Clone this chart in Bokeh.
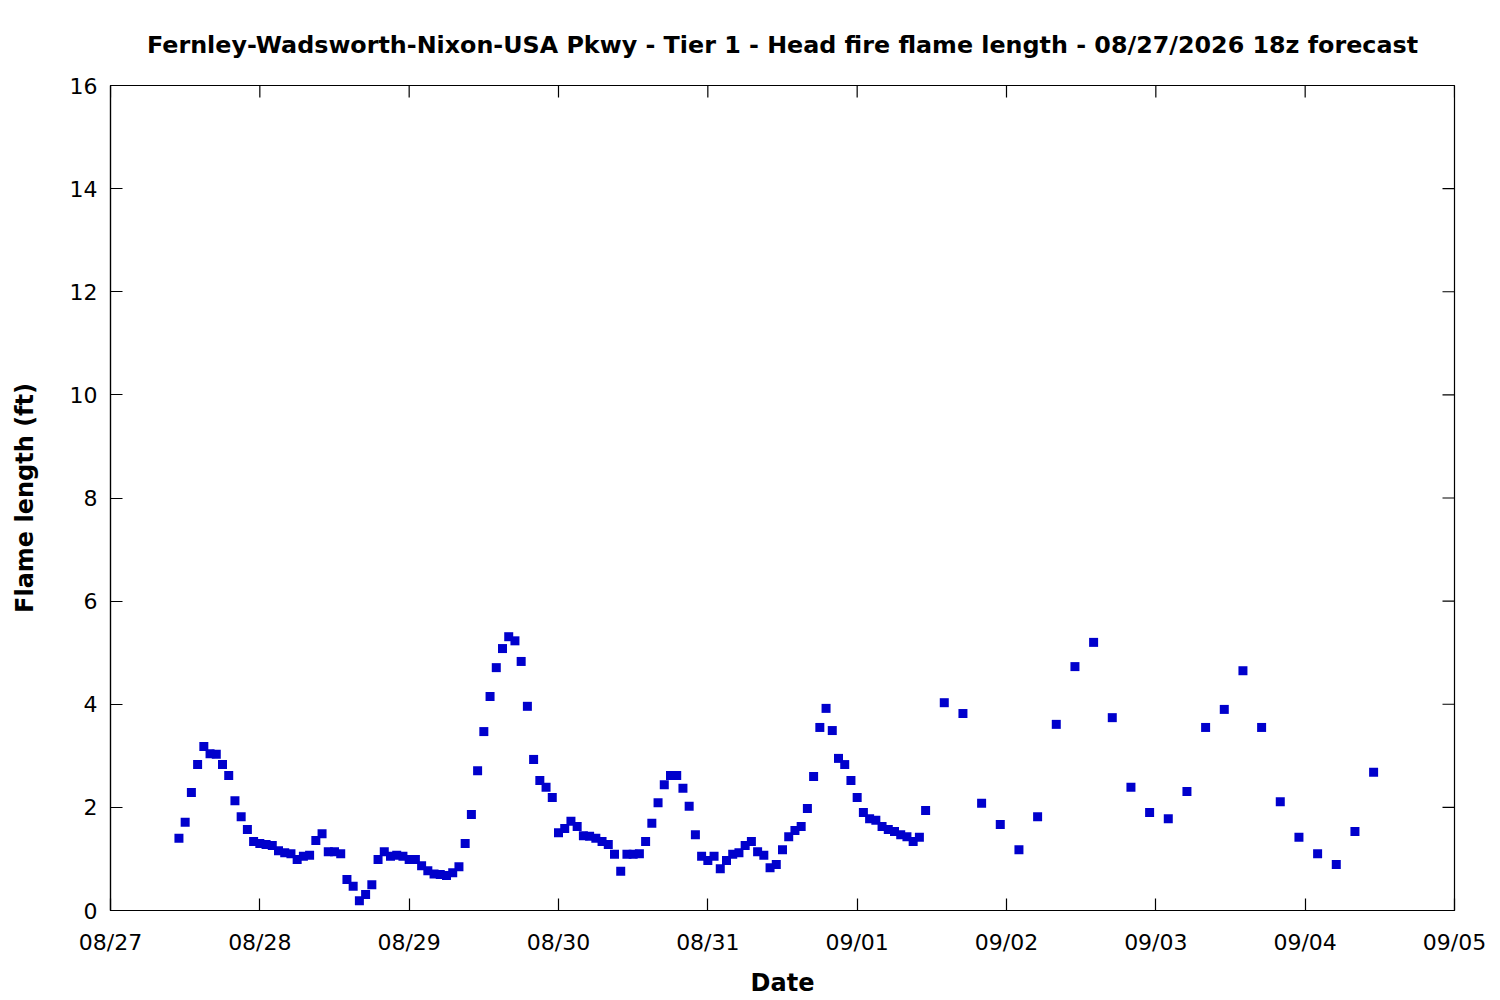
import math
import pandas as pd
from bokeh.plotting import figure
from bokeh.models import (LinearAxis, DatetimeAxis, FixedTicker, DatetimeTickFormatter,
                          Range1d, ColumnDataSource)
from bokeh.embed import file_html
from bokeh.resources import INLINE

TITLE = "Fernley-Wadsworth-Nixon-USA Pkwy - Tier 1 - Head fire flame length - 08/27/2026 18z forecast"
X_LABEL = "Date"
Y_LABEL = "Flame length (ft)"

# hourly forecast 2026-08-27 11z .. 2026-09-01 11z
hourly_start = "2026-08-27 11:00"
hourly_values = [
    1.40, 1.71, 2.29, 2.83, 3.18, 3.04, 3.03, 2.83, 2.62, 2.13, 1.82, 1.57, 1.34,
    1.30, 1.28, 1.26, 1.16, 1.12, 1.10, 0.99, 1.05, 1.07, 1.36, 1.49, 1.14,
    1.14, 1.10, 0.60, 0.47, 0.19, 0.31, 0.50, 0.99, 1.14, 1.05, 1.07, 1.05,
    0.99, 0.99, 0.87, 0.77, 0.71, 0.70, 0.68, 0.73, 0.85, 1.30, 1.86, 2.71,
    3.47, 4.15, 4.71, 5.08, 5.31, 5.23, 4.83, 3.96, 2.93, 2.52, 2.39, 2.19,
    1.51, 1.59, 1.73, 1.63, 1.45, 1.44, 1.40, 1.34, 1.28, 1.09, 0.76, 1.09,
    1.09, 1.10, 1.34, 1.69, 2.09, 2.44, 2.62, 2.62, 2.37, 2.02, 1.47, 1.05,
    0.97, 1.05, 0.81, 0.97, 1.09, 1.12, 1.26, 1.34, 1.14, 1.07, 0.83, 0.89,
    1.18, 1.43, 1.55, 1.63, 1.98, 2.60, 3.55, 3.92, 3.49, 2.95, 2.83, 2.52,
    2.19, 1.90, 1.78, 1.75, 1.63, 1.57, 1.53, 1.47, 1.43, 1.34, 1.42, 1.94,
]
# 3-hourly forecast 2026-09-01 14z .. 2026-09-04 11z
three_hourly_start = "2026-09-01 14:00"
three_hourly_values = [
    4.03, 3.82, 2.08, 1.67, 1.18, 1.82, 3.61, 4.73, 5.20, 3.74, 2.39, 1.90,
    1.78, 2.31, 3.55, 3.90, 4.65, 3.55, 2.11, 1.42, 1.10, 0.89, 1.53, 2.68,
]
date_ticks = ["2026-08-27", "2026-08-28", "2026-08-29", "2026-08-30", "2026-08-31",
              "2026-09-01", "2026-09-02", "2026-09-03", "2026-09-04", "2026-09-05"]
y_ticks = [0, 2, 4, 6, 8, 10, 12, 14, 16]

t1 = pd.date_range(hourly_start, periods=len(hourly_values), freq="1h")
t2 = pd.date_range(three_hourly_start, periods=len(three_hourly_values), freq="3h")
times = list(t1) + list(t2)
vals = hourly_values + three_hourly_values
src = ColumnDataSource(dict(t=times, v=vals))

tick_ms = [pd.Timestamp(d).value / 1e6 for d in date_ticks]
x0, x1 = tick_ms[0], tick_ms[-1]
y0, y1 = y_ticks[0], y_ticks[-1]

FONT = "DejaVu Sans"
p = figure(width=1496, height=999, output_backend="svg", toolbar_location=None,
           x_axis_type=None, y_axis_location=None,
           x_range=Range1d(x0, x1), y_range=Range1d(y0, y1),
           min_border_left=110, min_border_right=42, min_border_top=85, min_border_bottom=86)
p.background_fill_color = "white"
p.border_fill_color = "white"
p.outline_line_color = "black"
p.outline_line_width = 1.2
p.xgrid.visible = False
p.ygrid.visible = False

fmt = DatetimeTickFormatter(days="%m/%d", months="%m/%d", hours="%m/%d")

def style(ax):
    ax.major_tick_in = 12
    ax.major_tick_out = 0
    ax.minor_tick_in = 0
    ax.minor_tick_out = 0
    ax.axis_line_color = "black"
    ax.axis_line_width = 1.2
    ax.major_tick_line_color = "black"
    ax.major_tick_line_width = 1.2
    ax.major_label_text_font = FONT
    ax.major_label_text_font_size = "22px"
    ax.major_label_text_color = "black"
    ax.axis_label_text_font = FONT
    ax.axis_label_text_font_size = "24px"
    ax.axis_label_text_font_style = "bold"
    ax.axis_label_text_color = "black"

xb = DatetimeAxis(ticker=FixedTicker(ticks=tick_ms), formatter=fmt, axis_label=X_LABEL)
style(xb)
xb.major_label_standoff = 19
xb.axis_label_standoff = 11
p.add_layout(xb, "below")

yl = LinearAxis(ticker=FixedTicker(ticks=y_ticks), axis_label=Y_LABEL)
style(yl)
yl.major_label_standoff = 13
yl.axis_label_standoff = 28
p.add_layout(yl, "left")

# mirrored inward ticks on top and right (clipped to the frame, so only the inner half shows)
p.scatter(x=tick_ms, y=[y1] * len(tick_ms), marker="dash", size=24, angle=math.pi / 2,
          line_color="black", line_width=1.2)
p.scatter(x=[x1] * len(y_ticks), y=y_ticks, marker="dash", size=24,
          line_color="black", line_width=1.2)

p.title.text = TITLE
p.title.align = "center"
p.title.text_font = FONT
p.title.text_font_size = "23.8px"
p.title.text_font_style = "bold"
p.title.text_color = "black"
p.title.standoff = 53

p.scatter("t", "v", source=src, marker="square", size=9, fill_color="#0000CC",
          line_color="#0000CC", line_width=0)

open("out.html", "w").write(file_html(p, INLINE))
